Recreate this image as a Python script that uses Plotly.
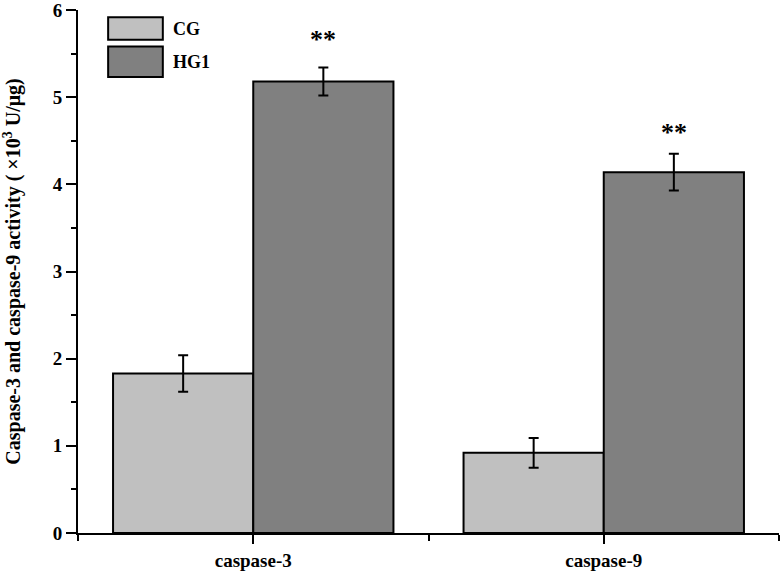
import plotly.graph_objects as go

# data
categories = ["caspase-3", "caspase-9"]
cg_mean = [1.83, 0.92]
cg_err = [0.21, 0.17]
hg1_mean = [5.18, 4.14]
hg1_err = [0.16, 0.21]
star_y = [5.66, 4.60]
star_text = ["**", "**"]

FONT = "Liberation Serif, Times New Roman, serif"
pos = list(range(len(categories)))

fig = go.Figure()
fig.add_trace(go.Bar(x=pos, y=cg_mean, name="CG",
                     marker=dict(color="#c0c0c0", line=dict(color="black", width=2)),
                     error_y=dict(type="data", array=cg_err, color="black", thickness=2, width=5)))
fig.add_trace(go.Bar(x=pos, y=hg1_mean, name="HG1",
                     marker=dict(color="#808080", line=dict(color="black", width=2)),
                     error_y=dict(type="data", array=hg1_err, color="black", thickness=2, width=5)))

# significance stars over HG1 bars
for p, sy, st in zip(pos, star_y, star_text):
    fig.add_annotation(x=p + 0.2, y=sy, text=st, showarrow=False, yanchor="middle",
                       font=dict(family=FONT, size=26, color="black", weight="bold"))

# legend drawn by hand (big boxes like the original)
leg = [("CG", "#c0c0c0", 0.986, 0.943), ("HG1", "#808080", 0.930, 0.872)]
for name, col, y1, y0 in leg:
    fig.add_shape(type="rect", xref="paper", yref="paper", x0=0.043, x1=0.121, y0=y0, y1=y1,
                  fillcolor=col, line=dict(color="black", width=2))
    fig.add_annotation(xref="paper", yref="paper", x=0.132, y=(y0 + y1) / 2, text=name,
                       showarrow=False, xanchor="left", yanchor="middle",
                       font=dict(family=FONT, size=18, color="black", weight="bold"))

fig.update_layout(
    barmode="group", bargap=0.2, bargroupgap=0,
    width=783, height=572,
    margin=dict(l=78, r=4, t=10, b=39, autoexpand=False),
    paper_bgcolor="white", plot_bgcolor="white",
    showlegend=False,
    font=dict(family=FONT, color="black"),
)
fig.update_xaxes(range=[-0.5, 1.5], tickvals=pos, ticktext=categories,
                 showline=True, linecolor="black", linewidth=2,
                 ticks="outside", ticklen=9, tickwidth=2, tickcolor="black",
                 minor=dict(ticks="outside", dtick=0.5, tick0=0, ticklen=6, tickwidth=2, tickcolor="black"),
                 showgrid=False, zeroline=False,
                 tickfont=dict(family=FONT, size=19, weight="bold"))
fig.update_yaxes(range=[0, 6], dtick=1, tick0=0,
                 showline=True, linecolor="black", linewidth=2,
                 ticks="outside", ticklen=10, tickwidth=2, tickcolor="black",
                 minor=dict(ticks="outside", dtick=0.5, ticklen=5, tickwidth=2, tickcolor="black"),
                 showgrid=False, zeroline=False, ticklabeloverflow="allow",
                 tickfont=dict(family=FONT, size=19, weight="bold"),
                 title=dict(text="Caspase-3 and caspase-9 activity ( ×10<sup>3</sup> U/μg)",
                            font=dict(family=FONT, size=20, weight="bold"), standoff=28))

# the page body has a default 8px margin; remove it so the figure sits at 0,0
fig.write_html("out.html", config={"displayModeBar": False},
               post_script="document.body.style.margin='0';")
